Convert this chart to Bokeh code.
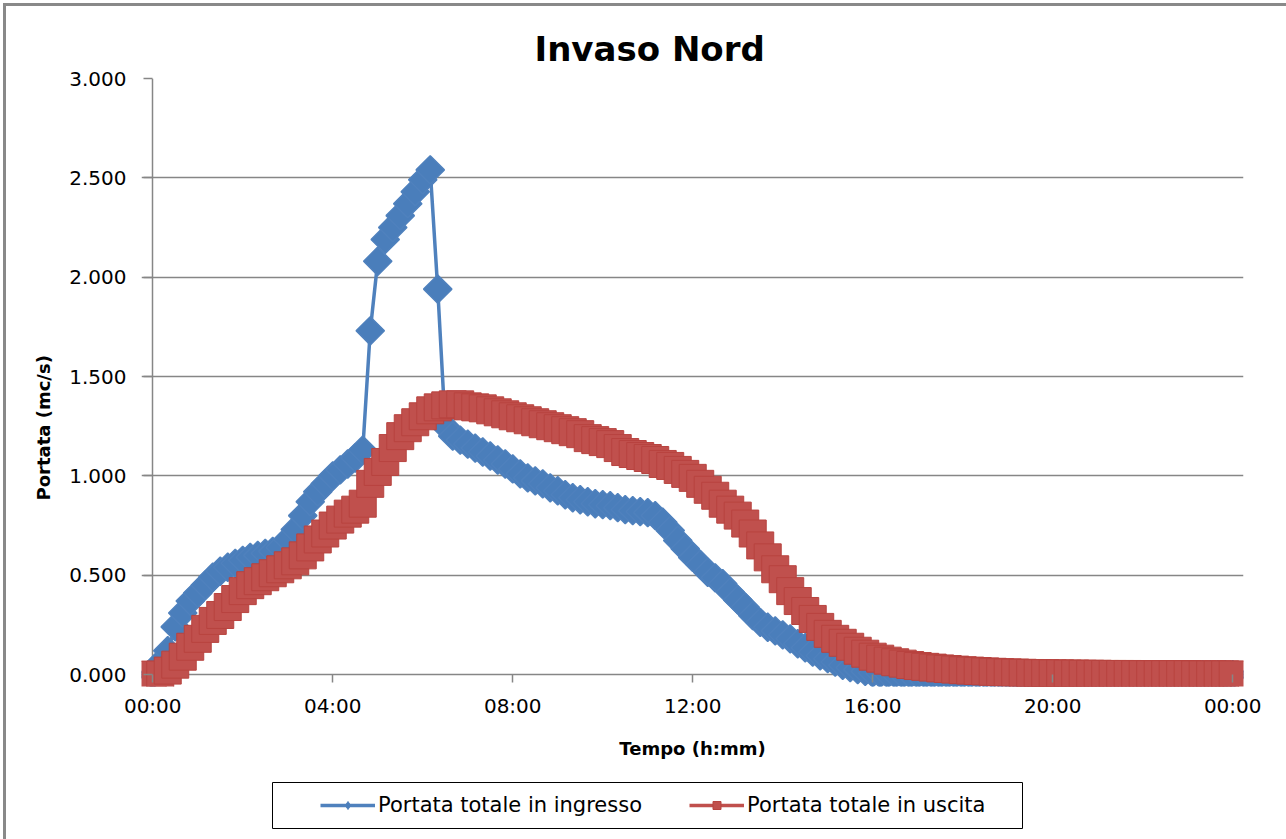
import math

from bokeh.embed import file_html
from bokeh.layouts import column
from bokeh.models import (BoxAnnotation, FixedTicker, Legend, LegendItem,
                          NumeralTickFormatter, Range1d, Title)
from bokeh.plotting import figure
from bokeh.resources import INLINE

# Flow readings every 10 minutes, from 00:00 to 24:00 (145 samples)
step_minutes = 10

inflow = [
    0.00, 0.06, 0.12, 0.24, 0.31, 0.37,        # 00
    0.41, 0.45, 0.49, 0.52, 0.54, 0.56,        # 01
    0.575, 0.59, 0.60, 0.61, 0.62, 0.64,       # 02
    0.68, 0.73, 0.80, 0.87, 0.92, 0.96,        # 03
    1.00, 1.03, 1.06, 1.09, 1.13, 1.73,        # 04
    2.08, 2.19, 2.25, 2.31, 2.37, 2.43,        # 05
    2.49, 2.54, 1.94, 1.25, 1.20, 1.18,        # 06
    1.16, 1.14, 1.12, 1.10, 1.08, 1.06,        # 07
    1.035, 1.01, 0.99, 0.975, 0.96, 0.94,      # 08
    0.925, 0.905, 0.89, 0.88, 0.87, 0.86,      # 09
    0.855, 0.85, 0.84, 0.83, 0.825, 0.82,      # 10
    0.815, 0.80, 0.767, 0.725, 0.675, 0.633,   # 11
    0.59, 0.554, 0.515, 0.487, 0.457, 0.415,   # 12
    0.376, 0.339, 0.297, 0.263, 0.238, 0.22,   # 13
    0.20, 0.18, 0.155, 0.135, 0.113, 0.095,    # 14
    0.08, 0.063, 0.047, 0.035, 0.025, 0.016,   # 15
    0.008, 0.005, 0.003, 0.002, 0.001, 0.001,  # 16
    0.001, 0.0, 0.0, 0.0, 0.0, 0.0,            # 17
    0.0, 0.0, 0.0, 0.0, 0.0, 0.0,              # 18
    0.0, 0.0, 0.0, 0.0, 0.0, 0.0,              # 19
    0.0, 0.0, 0.0, 0.0, 0.0, 0.0,              # 20
    0.0, 0.0, 0.0, 0.0, 0.0, 0.0,              # 21
    0.0, 0.0, 0.0, 0.0, 0.0, 0.0,              # 22
    0.0, 0.0, 0.0, 0.0, 0.0, 0.0,              # 23
    0.0,                                       # 24
]

outflow = [
    0.00, 0.00, 0.02, 0.05, 0.09, 0.14,        # 00
    0.18, 0.23, 0.27, 0.30, 0.34, 0.38,        # 01
    0.42, 0.45, 0.47, 0.49, 0.51, 0.53,        # 02
    0.55, 0.57, 0.60, 0.64, 0.68, 0.71,        # 03
    0.75, 0.78, 0.81, 0.83, 0.86, 0.96,        # 04
    1.02, 1.07, 1.14, 1.20, 1.24, 1.27,        # 05
    1.30, 1.33, 1.345, 1.355, 1.36, 1.36,      # 06
    1.35, 1.345, 1.34, 1.33, 1.32, 1.31,       # 07
    1.30, 1.29, 1.28, 1.27, 1.26, 1.25,        # 08
    1.24, 1.23, 1.22, 1.21, 1.19, 1.18,        # 09
    1.17, 1.16, 1.14, 1.12, 1.11, 1.10,        # 10
    1.09, 1.08, 1.06, 1.05, 1.03, 1.01,        # 11
    0.99, 0.96, 0.93, 0.90, 0.86, 0.83,        # 12
    0.80, 0.76, 0.71, 0.65, 0.59, 0.53,        # 13
    0.48, 0.42, 0.37, 0.32, 0.28, 0.24,        # 14
    0.205, 0.18, 0.16, 0.14, 0.12, 0.105,      # 15
    0.09, 0.08, 0.07, 0.062, 0.055, 0.048,     # 16
    0.043, 0.039, 0.035, 0.031, 0.028, 0.025,  # 17
    0.022, 0.020, 0.018, 0.016, 0.014, 0.012,  # 18
    0.011, 0.010, 0.009, 0.008, 0.007, 0.007,  # 19
    0.006, 0.006, 0.005, 0.005, 0.004, 0.004,  # 20
    0.004, 0.003, 0.003, 0.003, 0.003, 0.002,  # 21
    0.002, 0.002, 0.002, 0.002, 0.002, 0.002,  # 22
    0.002, 0.001, 0.001, 0.001, 0.001, 0.001,  # 23
    0.001,                                     # 24
]

hours = [i * step_minutes / 60 for i in range(len(inflow))]

x_ticks = [0, 4, 8, 12, 16, 20, 24]
x_tick_labels = ["00:00", "04:00", "08:00", "12:00", "16:00", "20:00", "00:00"]
y_ticks = [0.0, 0.5, 1.0, 1.5, 2.0, 2.5, 3.0]

title_text = "Invaso Nord"
x_title = "Tempo (h:mm)"
y_title = "Portata (mc/s)"
series_names = ["Portata totale in ingresso", "Portata totale in uscita"]

BLUE = "#4F81BD"
BLUE_FILL = "#4A7EBB"
RED = "#C0504D"
RED_EDGE = "#B8433F"
AXIS_GRAY = "#868686"
FRAME_GRAY = "#898989"
FONT = "DejaVu Sans"

X_END = 24.24
Y_END = 3.0
W = 1286
H_CHART = 770
H_LEGEND = 69
FRAME_LEFT = 141
FRAME_RIGHT = 1243

# ---------------------------------------------------------------- chart
# The frame reaches a little to the left of x=0 and below y=0 so that the
# markers sitting on the axes are not cut; the visible axis lines at x=0
# and y=0 are grid lines, the axes carry the ticks and labels.
p = figure(
    width=W, height=H_CHART,
    x_range=Range1d(-0.25, X_END), y_range=Range1d(-0.06, Y_END),
    output_backend="svg", toolbar_location=None,
    min_border_left=FRAME_LEFT, min_border_right=W - FRAME_RIGHT,
    min_border_top=78, min_border_bottom=H_CHART - 686,
)
p.outline_line_color = None
p.background_fill_color = "white"
p.border_fill_color = None
p.styles = {"box-shadow": f"inset 3px 3px 0 white, inset 6px 6px 0 {FRAME_GRAY}",
            "background-color": "white"}

p.xaxis.ticker = FixedTicker(ticks=x_ticks)
p.xaxis.major_label_overrides = {t: lab for t, lab in zip(x_ticks, x_tick_labels)}
p.yaxis.ticker = FixedTicker(ticks=y_ticks)
p.yaxis.formatter = NumeralTickFormatter(format="0.000")
for ax in (p.xaxis, p.yaxis):
    ax.axis_line_color = None
    ax.major_tick_line_color = AXIS_GRAY
    ax.major_tick_line_width = 1.5
    ax.minor_tick_line_color = None
    ax.major_label_text_font = FONT
    ax.major_label_text_font_size = "20px"
    ax.major_label_text_color = "black"
p.xaxis.major_tick_in = 12
p.xaxis.major_tick_out = -4
p.xaxis.major_label_standoff = 7
p.yaxis.major_tick_in = 11
p.yaxis.major_tick_out = -2
p.yaxis.major_label_standoff = 15

p.xaxis.axis_label = x_title
p.xaxis.axis_label_text_font = FONT
p.xaxis.axis_label_text_font_style = "bold"
p.xaxis.axis_label_text_font_size = "18px"
p.xaxis.axis_label_text_color = "black"
p.xaxis.axis_label_standoff = 17

# horizontal grid (its y=0 line is the category axis line)
p.ygrid.ticker = FixedTicker(ticks=y_ticks)
p.ygrid.bounds = (0, X_END)
p.ygrid.grid_line_color = AXIS_GRAY
p.ygrid.grid_line_width = 1.5
# single vertical line at x=0 for the value axis
p.xgrid.ticker = FixedTicker(ticks=[0])
p.xgrid.bounds = (0, Y_END)
p.xgrid.grid_line_color = AXIS_GRAY
p.xgrid.grid_line_width = 1.5

p.line(hours, inflow, line_color=BLUE, line_width=3.5)
p.scatter(hours, inflow, marker="square", angle=math.pi / 4,
          size=20, fill_color=BLUE_FILL, line_color=BLUE, line_width=1.5)
p.line(hours, outflow, line_color=RED, line_width=3.5)
p.scatter(hours, outflow, marker="square", size=27,
          fill_color=RED, line_color=RED_EDGE, line_width=1)

p.title = Title(text=title_text, align="left", offset=393, standoff=20,
                text_font=FONT, text_font_style="bold", text_font_size="34px",
                text_color="black")
p.add_layout(Title(text=y_title, align="left", offset=186, standoff=26,
                   text_font=FONT, text_font_style="bold", text_font_size="18px",
                   text_color="black"), "left")

# ---------------------------------------------------------------- legend strip
# its frame lines up with the chart frame, so x data units are page pixels
lg = figure(
    width=W, height=H_LEGEND,
    x_range=Range1d(FRAME_LEFT, FRAME_RIGHT), y_range=Range1d(0, H_LEGEND),
    x_axis_type=None, y_axis_type=None,
    output_backend="svg", toolbar_location=None,
    min_border=0, min_border_left=FRAME_LEFT, min_border_right=W - FRAME_RIGHT,
)
lg.outline_line_color = None
lg.grid.visible = False
lg.background_fill_color = "white"
lg.border_fill_color = None
lg.styles = {"box-shadow": f"inset 3px 0 0 white, inset 6px 0 0 {FRAME_GRAY}",
             "background-color": "white"}

# the legend's sample glyphs take their look from these series renderers;
# in this strip's pixel units the series lie left of the frame and stay hidden
k_blue_line = lg.line(hours, inflow, line_color=BLUE, line_width=3.5)
k_blue_pts = lg.scatter(hours, inflow, marker="diamond", size=17,
                        fill_color=BLUE_FILL, line_color=BLUE, line_width=1)
k_red_line = lg.line(hours, outflow, line_color=RED, line_width=3.5)
k_red_pts = lg.scatter(hours, outflow, marker="square", size=20,
                       fill_color=RED, line_color=RED_EDGE, line_width=1)

lg.add_layout(BoxAnnotation(left=272, right=1022, top=H_LEGEND - 12, bottom=H_LEGEND - 58,
                            fill_alpha=0, line_color="black", line_width=1, line_alpha=1))

legend = Legend(
    items=[LegendItem(label=series_names[0], renderers=[k_blue_line, k_blue_pts]),
           LegendItem(label=series_names[1], renderers=[k_red_line, k_red_pts])],
    location=(320 - FRAME_LEFT, 22), orientation="horizontal",
    glyph_width=55, glyph_height=20, label_standoff=3, spacing=47,
    padding=0, margin=0, border_line_color=None, background_fill_alpha=0,
    label_text_font=FONT, label_text_font_size="21px", label_text_color="black",
)
lg.add_layout(legend, "center")

layout = column(p, lg, spacing=0)
open("out.html", "w").write(file_html(layout, INLINE))
